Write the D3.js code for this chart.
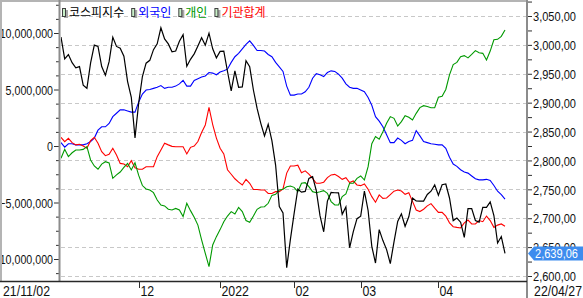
<!DOCTYPE html>
<html>
<head>
<meta charset="utf-8">
<script src="https://cdn.jsdelivr.net/npm/d3@7"></script>
<style>
  body { margin: 0; background: #fff; }
  svg text { font-family: "Liberation Sans", Arial, sans-serif; }
</style>
</head>
<body>
<div id="chart"></div>
<script>
// --- DATA (trading days 2021-11-02 .. 2022-04-27) ---
const seriesNames = ["코스피지수", "외국인", "개인", "기관합계"];

// KOSPI close (right axis)
const kospi = [
  3013.49, 2975.71, 2983.22, 2969.27, 2960.20, 2962.46, 2930.17, 2924.92, 2968.80, 2999.52, 2997.21,
  2962.42, 2947.38, 2971.02, 3013.25, 2997.33, 2994.29, 2980.27, 2936.44, 2909.32, 2839.01,
  2899.72, 2945.27, 2968.33, 2973.25, 2991.72, 3001.80, 3029.57, 3010.23, 3001.66, 2987.95, 2989.39,
  3006.41, 3017.73, 2963.00, 2975.03, 2984.48, 2998.17, 3012.43, 2999.55, 3020.24, 2993.29, 2977.65,
  2988.77, 2989.24, 2953.97, 2920.53, 2954.89, 2926.72, 2927.38, 2972.48, 2962.09, 2921.92,
  2890.10, 2864.24, 2842.28, 2862.68, 2834.29, 2792.00, 2720.39, 2709.24, 2614.49, 2663.34,
  2707.82, 2750.26, 2745.06, 2746.47, 2768.85, 2771.93, 2747.71, 2704.48, 2676.54, 2729.68,
  2744.52, 2744.09, 2743.80, 2706.79, 2719.53, 2648.80, 2676.76, 2699.18,
  2703.52, 2747.08, 2713.43, 2651.31, 2622.40, 2680.32, 2661.28, 2645.65, 2621.53, 2659.23, 2694.51,
  2707.64, 2686.05, 2702.56, 2735.03, 2729.98, 2729.66, 2729.56, 2741.07, 2746.74, 2757.65,
  2739.85, 2757.90, 2759.20, 2735.02, 2695.86, 2700.39, 2693.10, 2666.76, 2716.49, 2716.71,
  2696.06, 2693.21, 2718.69, 2718.89, 2728.21, 2704.71, 2657.13, 2668.31, 2639.06
];

// cumulative net buying, in millions (left axis)
const foreign = [
  0.3, -0.1, 0.2, 0.2, 0.1, 0.1, 0.1, 0.2, 0.4, 0.7, 1.4, 1.7, 1.7, 2.0, 2.6, 2.9, 3.2, 3.2, 3.1, 3.0, 3.0,
  3.9, 4.6, 4.95, 5.0, 5.1, 5.2, 5.35, 5.1, 5.2, 5.2, 5.3, 5.5, 5.8, 5.3, 5.3, 5.8, 5.95, 6.1, 6.2, 6.5, 6.45, 6.3,
  6.55, 6.65, 6.8, 7.4, 7.9, 8.2, 8.6, 9.0, 9.3, 8.9, 8.45, 8.45, 8.4, 8.1, 7.9, 7.4, 7.0, 6.6, 5.3, 4.5,
  4.5, 4.6, 4.6, 4.8, 5.2, 6.0, 6.4, 6.3, 6.15, 6.5, 6.65, 6.6, 6.35, 6.0, 5.5, 5.2, 5.1, 5.1,
  4.95, 4.8, 4.3, 3.6, 2.6, 2.2, 1.7, 1.0, 0.3, 0.3, 0.7, 0.5, 0.2, 0.4, 0.5, 1.36, 0.9, 0.4, 0.3, 0.2, 0.15,
  0.1, 0.1, -0.2, -1.0, -1.6, -1.8, -2.1, -2.3, -2.4, -2.65, -2.9, -3.0, -3.0, -2.95, -3.05, -3.5, -4.0, -4.3, -4.7
];
const individual = [
  -1.09, -0.29, -0.94, -0.6, -0.35, -0.35, -0.3, -0.06, -1.24, -1.77, -2.06, -1.6, -1.39, -1.5, -2.86, -2.56,
  -2.3, -1.9, -1.54, -2.12, -1.48,
  -2.6, -3.5, -3.8, -3.9, -4.13, -4.78, -5.22, -5.3, -5.6, -5.66, -5.52, -5.66, -6.25, -5.07, -5.72, -6.31,
  -7.0, -8.3, -9.5, -10.68, -8.76, -8.02,
  -7.4, -6.7, -6.2, -5.81, -6.02, -5.43, -5.81, -6.6, -6.75, -6.2, -5.6, -5.4, -5.37, -5.07, -4.37, -4.28,
  -3.89, -3.83, -3.6, -3.54,
  -3.66, -4.04, -3.3, -3.24, -3.6, -4.04, -4.13, -4.05, -3.95, -4.19, -4.92, -5.22, -5.22, -4.48, -4.25,
  -3.3, -3.3, -2.86,
  -2.65, -3.01, -1.83, 0.2, 0.83, 0.6, 1.27, 2.01, 2.6, 2.45, 1.77, 2.16, 2.68, 2.54, 2.3, 2.89, 3.4, 3.57,
  3.5, 3.39, 3.39,
  4.31, 4.4, 5.0, 6.3, 7.2, 7.4, 7.9, 8.0, 7.8, 8.1, 8.44, 8.25, 8.2, 7.61, 8.4, 9.4, 9.44, 9.7, 10.27
];
const institution = [
  0.77, 0.38, 0.68, 0.3, 0.1, 0.15, 0.0, -0.2, 0.47, 0.77, 0.24, -0.5, -0.86, -0.74, -0.2, -0.8, -1.54,
  -1.6, -1.83, -1.3, -1.92,
  -2.06, -2.06, -1.83, -1.83, -1.83, -0.94, -0.35, 0.24, 0.1, -0.03, -0.06, -0.06, -0.06, -0.7, -0.12, 0.0,
  0.4, 1.2, 1.86, 3.42, 1.9, 0.7,
  -0.2, -0.7, -2.1, -2.5, -2.9, -3.2, -3.45, -2.95, -3.3, -3.85, -3.85, -3.89, -3.89, -4.2, -4.2, -4.04,
  -4.04, -3.8, -2.4, -1.77,
  -1.77, -1.7, -2.36, -2.2, -2.48, -2.86, -3.3, -3.3, -3.2, -2.8, -2.56, -2.51, -2.7, -2.95, -2.8, -3.24,
  -3.1, -3.45,
  -3.51, -3.36, -3.83, -4.48, -4.98, -4.33, -4.63, -4.6, -4.3, -4.0, -3.89, -3.98, -4.28, -4.13, -4.9,
  -5.66, -5.8, -5.6, -5.3, -5.1, -5.5,
  -5.87, -5.87, -6.2, -6.8, -7.14, -7.2, -7.25, -6.8, -6.55, -6.9, -6.9, -6.6, -6.7, -6.2, -6.6, -7.2,
  -7.0, -6.9, -7.1
];

// x axis: index of the first trading day of each month
const monthTickIdx = [21, 43, 63, 81, 102];
const monthTickLabels = ["12", "2022", "02", "03", "04"];
const firstDateLabel = "21/11/02";
const lastDateLabel = "22/04/27";

const leftTicks = [-10, -5, 0, 5, 10];
const rightTicks = [2600, 2650, 2700, 2750, 2800, 2850, 2900, 2950, 3000, 3050];

// squeeze a text horizontally (the original uses a narrow bitmap font)
function narrow(sel, k) {
  sel.each(function () {
    const w = this.getComputedTextLength();
    d3.select(this).attr("textLength", w * k).attr("lengthAdjust", "spacingAndGlyphs");
  });
}

window.onload = () => {
  // --- SETUP ---
  const width = 583, height = 298;
  const plot = { left: 60, right: 527, top: 1, bottom: 281 };

  const svg = d3.select("#chart").append("svg")
    .attr("width", width).attr("height", height);

  const x = d3.scaleLinear().domain([0, kospi.length - 1]).range([61, 505]);
  const yL = d3.scaleLinear().domain([-10, 10]).range([259, 33]);
  const yR = d3.scaleLinear().domain([2600, 3050]).range([276, 16]);

  const colors = ["#000000", "#0000ff", "#009900", "#ff0000"];

  // --- GRID (follows right axis) ---
  svg.append("g").selectAll("line")
    .data(rightTicks)
    .enter().append("line")
    .attr("x1", plot.left + 1).attr("x2", plot.right - 1)
    .attr("y1", d => Math.round(yR(d)) + 0.5).attr("y2", d => Math.round(yR(d)) + 0.5)
    .attr("stroke", "#c8c8c8")
    .attr("stroke-dasharray", "4,3");

  // --- LINES ---
  svg.append("clipPath").attr("id", "clip")
    .append("rect")
    .attr("x", plot.left + 1).attr("y", plot.top + 1)
    .attr("width", plot.right - plot.left - 2).attr("height", plot.bottom - plot.top - 1);

  const lines = svg.append("g").attr("clip-path", "url(#clip)");
  const lineL = d3.line().x((d, i) => x(i)).y(d => yL(d));
  const lineR = d3.line().x((d, i) => x(i)).y(d => yR(d));

  [[foreign, 1], [institution, 3], [individual, 2]].forEach(([arr, c]) => {
    lines.append("path")
      .datum(arr)
      .attr("d", lineL)
      .attr("fill", "none")
      .attr("stroke", colors[c])
      .attr("stroke-width", 1.1);
  });
  lines.append("path")
    .datum(kospi)
    .attr("d", lineR)
    .attr("fill", "none")
    .attr("stroke", colors[0])
    .attr("stroke-width", 1.2);

  // --- LEFT AXIS ---
  const fmtL = d => d3.format(",")(Math.round(d * 1e6));
  const minorL = d3.range(-11.25, 12.6, 1.25).filter(d => Math.abs(d % 5) > 0.01);

  const leftMinor = svg.append("g")
    .attr("transform", `translate(${plot.left - 1},0)`)
    .call(d3.axisLeft(yL).tickValues(minorL).tickSize(3).tickFormat(""));
  const leftAxis = svg.append("g")
    .attr("transform", `translate(${plot.left - 1},0)`)
    .call(d3.axisLeft(yL).tickValues(leftTicks).tickSize(5).tickPadding(1).tickFormat(fmtL));

  // --- RIGHT AXIS ---
  const fmtR = d => d3.format(",.2f")(d).replace(".", ",");
  const minorR = d3.range(2625, 3076, 50);
  const rightMinor = svg.append("g")
    .attr("transform", `translate(${plot.right + 1},0)`)
    .call(d3.axisRight(yR).tickValues(minorR).tickSize(4).tickFormat(""));
  const rightAxis = svg.append("g")
    .attr("transform", `translate(${plot.right + 1},0)`)
    .call(d3.axisRight(yR).tickValues(rightTicks).tickSize(4).tickPadding(1).tickFormat(fmtR));

  [leftMinor, leftAxis, rightMinor, rightAxis].forEach(g => {
    g.attr("font-family", null).attr("font-size", null);
    g.select(".domain").remove();
    g.selectAll(".tick line").attr("stroke", "#303030");
    g.selectAll(".tick text")
      .attr("fill", "#111")
      .style("font-size", "13px")
      .attr("dy", "0.36em");
  });
  narrow(leftAxis.selectAll(".tick text"), 0.82);
  narrow(rightAxis.selectAll(".tick text"), 0.85);

  // --- FRAME ---
  const frame = svg.append("g");
  frame.append("line").attr("x1", 1).attr("x2", 1).attr("y1", 0).attr("y2", plot.bottom)
    .attr("stroke", "#b4b4b4").attr("stroke-width", 2);
  frame.append("line").attr("x1", 0).attr("x2", plot.right).attr("y1", 1).attr("y2", 1)
    .attr("stroke", "#b4b4b4").attr("stroke-width", 2);
  frame.append("line").attr("x1", plot.left - 0.5).attr("x2", plot.left - 0.5).attr("y1", 0).attr("y2", plot.bottom)
    .attr("stroke", "#8c8c8c").attr("stroke-width", 2);
  frame.append("line").attr("x1", plot.right).attr("x2", plot.right).attr("y1", 0).attr("y2", height)
    .attr("stroke", "#8c8c8c").attr("stroke-width", 2);
  frame.append("line").attr("x1", 0).attr("x2", plot.right).attr("y1", plot.bottom + 0.5).attr("y2", plot.bottom + 0.5)
    .attr("stroke", "#282828").attr("stroke-width", 1.5);

  // --- BOTTOM AXIS ---
  const bottom = svg.append("g");
  monthTickIdx.forEach((idx, i) => {
    const tx = Math.round(x(idx)) + 0.5;
    bottom.append("line")
      .attr("x1", tx).attr("x2", tx)
      .attr("y1", plot.bottom).attr("y2", plot.bottom + 7)
      .attr("stroke", "#303030");
    bottom.append("text")
      .attr("class", "xlab")
      .attr("x", tx + 1).attr("y", 296)
      .style("font-size", "14px")
      .attr("fill", "#111")
      .text(monthTickLabels[i]);
  });
  bottom.append("text")
    .attr("class", "xlab")
    .attr("x", 3).attr("y", 296)
    .style("font-size", "14px")
    .attr("fill", "#111")
    .text(firstDateLabel);
  bottom.append("text")
    .attr("class", "xlab")
    .attr("x", 582).attr("y", 296)
    .attr("text-anchor", "end")
    .style("font-size", "14px")
    .attr("fill", "#111")
    .text(lastDateLabel);
  narrow(bottom.selectAll(".xlab"), 0.88);

  // --- CURRENT VALUE TAG ---
  const last = kospi[kospi.length - 1];
  const ty = yR(last);
  const tag = svg.append("g");
  tag.append("path")
    .attr("d", `M${plot.right + 1},${ty} L${plot.right + 7},${ty - 7} L583,${ty - 7} L583,${ty + 7} L${plot.right + 7},${ty + 7} Z`)
    .attr("fill", "#3d8cee");
  tag.append("text")
    .attr("x", plot.right + 8).attr("y", ty + 5)
    .style("font-size", "13px")
    .attr("fill", "#fff")
    .text(fmtR(last))
    .call(narrow, 0.85);

  // --- LEGEND ---
  const legend = svg.append("g");
  let cursor = 62;
  seriesNames.forEach((name, i) => {
    legend.append("rect")
      .attr("x", cursor + 2).attr("y", 10).attr("width", 4).attr("height", 8)
      .attr("fill", "#a8a8a8");
    legend.append("rect")
      .attr("x", cursor + 0.5).attr("y", 8.5).attr("width", 3).attr("height", 8)
      .attr("fill", "#c8f0c8").attr("stroke", "#404040").attr("stroke-width", 1);
    const t = legend.append("text")
      .attr("x", cursor + 7).attr("y", 17)
      .style("font-family", "'Noto Sans CJK KR', sans-serif")
      .style("font-size", "12px")
      .attr("fill", colors[i])
      .text(name);
    cursor = cursor + 7 + t.node().getComputedTextLength() + 7;
  });
};
</script>
</body>
</html>
